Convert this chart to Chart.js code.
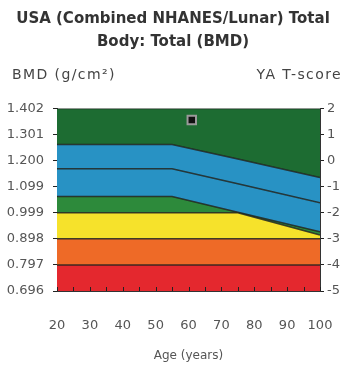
<!DOCTYPE html>
<html>
<head>
<meta charset="utf-8">
<script src="https://cdn.jsdelivr.net/npm/chart.js@4/dist/chart.umd.min.js"></script>
<style>
  html, body { margin: 0; padding: 0; background: #fff; }
  #wrap { width: 346px; height: 371px; }
</style>
</head>
<body>
<div id="wrap"><canvas id="bmd-chart"></canvas></div>
<script>
// reference curves (T-score units, right axis)
var ages = [20, 55, 75, 100];
var bandBottom = [-5, -5, -5, -5];
var redTop = [-4, -4, -4, -4];
var orangeTop = [-3, -3, -3, -3];
var yellowTop = [-2, -2, -2, -2.85];
var blueLow = [-1.38, -1.38, -1.98, -2.73];
var blueMean = [-0.31, -0.31, -0.89, -1.62];
var blueHigh = [0.62, 0.62, 0.06, -0.65];
var bandTop = [2, 2, 2, 2];

// patient result
var patientAge = [61];
var patientT = [1.56];

// tick labels
var bmdTicks = [0.696, 0.797, 0.898, 0.999, 1.099, 1.200, 1.301, 1.402];
var tTicks = [-5, -4, -3, -2, -1, 0, 1, 2];
var ageTicks = [20, 30, 40, 50, 60, 70, 80, 90, 100];

var FONT = "'DejaVu Sans', 'Noto Sans', sans-serif";
var edge = "rgba(30,35,30,0.85)";

function pts(vals) {
  return ages.map(function (a, i) { return { x: a, y: vals[i] }; });
}

function band(vals, color) {
  return {
    data: pts(vals),
    yAxisID: "y",
    borderColor: edge,
    borderWidth: 1.5,
    backgroundColor: color,
    fill: "-1",
    pointRadius: 0,
    tension: 0
  };
}

var datasets = [
  { data: pts(bandBottom), yAxisID: "y", borderWidth: 0, pointRadius: 0, fill: false },
  band(redTop, "#e4282e"),
  band(orangeTop, "#ee6a27"),
  band(yellowTop, "#f6e22b"),
  band(blueLow, "#2d8a3b"),
  band(blueMean, "#2892c4"),
  band(blueHigh, "#2892c4"),
  band(bandTop, "#1d6c32"),
  {
    type: "scatter",
    order: -1,
    data: patientAge.map(function (a, i) { return { x: a, y: patientT[i] }; }),
    yAxisID: "y",
    pointStyle: "rect",
    pointRadius: 6,
    backgroundColor: "#111",
    borderColor: "#9a9a9a",
    borderWidth: 2
  }
];

var cornerLabels = {
  id: "cornerLabels",
  afterDraw: function (chart) {
    var ctx = chart.ctx;
    ctx.save();
    ctx.fillStyle = "#444";
    ctx.font = "14px " + FONT;
    ctx.letterSpacing = "1.4px";
    ctx.textBaseline = "middle";
    ctx.textAlign = "left";
    ctx.fillText("BMD (g/cm\u00B2)", 12, 75);
    ctx.textAlign = "right";
    ctx.fillText("YA T-score", 342, 75);
    ctx.letterSpacing = "0px";
    // small ticks pointing into the plot along the bottom
    var xs = chart.scales.x;
    var bottom = chart.chartArea.bottom;
    ctx.strokeStyle = "#222";
    ctx.lineWidth = 1;
    for (var a = 20; a <= 100; a += 5) {
      var px = Math.round(xs.getPixelForValue(a)) + 0.5;
      ctx.beginPath();
      ctx.moveTo(px, bottom);
      ctx.lineTo(px, bottom - 4);
      ctx.stroke();
    }
    ctx.restore();
  }
};

new Chart(document.getElementById("bmd-chart"), {
  type: "line",
  data: { datasets: datasets },
  plugins: [cornerLabels],
  options: {
    responsive: true,
    maintainAspectRatio: false,
    animation: false,
    layout: { padding: 0 },
    plugins: {
      legend: { display: false },
      tooltip: { enabled: false },
      title: {
        display: true,
        text: ["USA (Combined NHANES/Lunar) Total", "Body: Total (BMD)"],
        color: "#333",
        font: { family: FONT, size: 15, weight: "bold", lineHeight: 1.55 },
        padding: { top: 7, bottom: 55 }
      }
    },
    scales: {
      x: {
        type: "linear",
        min: 20,
        max: 100,
        afterBuildTicks: function (scale) {
          scale.ticks = ageTicks.map(function (v) { return { value: v }; });
        },
        afterFit: function (scale) {
          scale.height = 80;
          scale.paddingLeft = 0;
          scale.paddingRight = 0;
        },
        grid: { drawOnChartArea: false, drawTicks: false },
        border: { display: true, color: "#333" },
        ticks: { color: "#555", font: { family: FONT, size: 13 }, padding: 27, maxRotation: 0, autoSkip: false },
        title: { display: true, text: "Age (years)", color: "#555", font: { family: FONT, size: 12 }, padding: { top: 12, bottom: 8 } }
      },
      yL: {
        position: "left",
        min: 0.696,
        max: 1.402,
        afterBuildTicks: function (scale) {
          scale.ticks = bmdTicks.map(function (v) { return { value: v }; });
        },
        afterFit: function (scale) { scale.width = 57; },
        grid: { drawOnChartArea: false, tickLength: 4, color: "#222" },
        border: { display: true, color: "#333" },
        ticks: {
          color: "#555",
          font: { family: FONT, size: 13 },
          padding: 9,
          callback: function (v) { return v.toFixed(3); }
        }
      },
      y: {
        position: "right",
        min: -5,
        max: 2,
        afterBuildTicks: function (scale) {
          scale.ticks = tTicks.map(function (v) { return { value: v }; });
        },
        afterFit: function (scale) { scale.width = 26; },
        grid: { drawOnChartArea: false, tickLength: 4, color: "#222" },
        border: { display: true, color: "#333" },
        ticks: { color: "#555", font: { family: FONT, size: 13 }, padding: 3 }
      }
    }
  }
});
</script>
</body>
</html>
